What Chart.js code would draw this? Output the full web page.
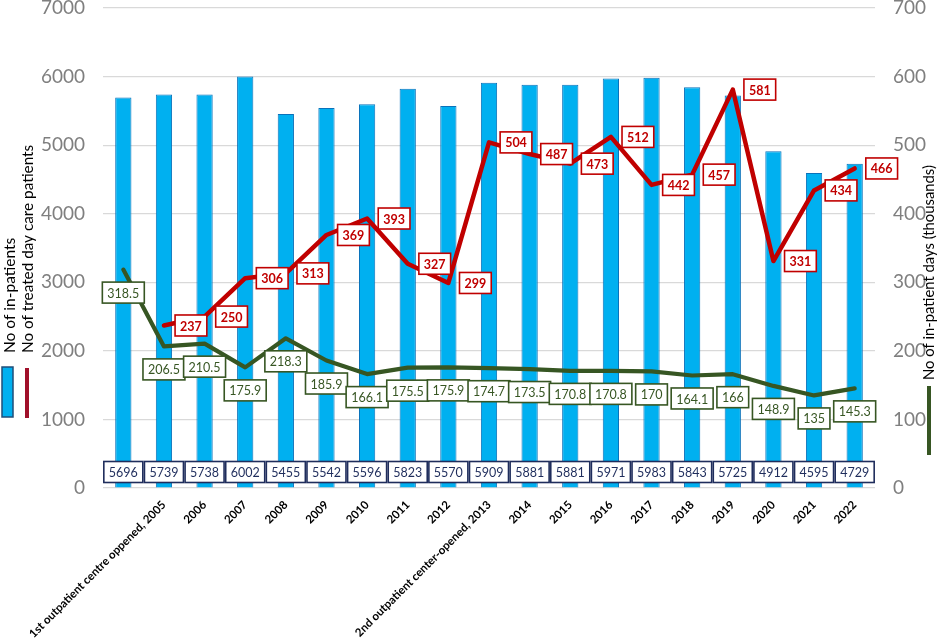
<!DOCTYPE html>
<html><head><meta charset="utf-8">
<script src="https://cdn.jsdelivr.net/npm/chart.js@4.4.1/dist/chart.umd.min.js"></script>
<style>html,body{margin:0;padding:0;background:#fff;}#wrap{width:938px;height:638px;position:relative;}</style>
</head><body><div id="wrap"><canvas id="c"></canvas></div>
<script>
const categories = ["", "1st outpatient centre oppened, 2005", "2006", "2007", "2008", "2009", "2010", "2011", "2012",
  "2nd outpatient center-opened, 2013", "2014", "2015", "2016", "2017", "2018", "2019", "2020", "2021", "2022"];
const inPatients = [5696, 5739, 5738, 6002, 5455, 5542, 5596, 5823, 5570, 5909, 5881, 5881, 5971, 5983, 5843, 5725, 4912, 4595, 4729];
const dayCarePatients = [null, 237, 250, 306, 313, 369, 393, 327, 299, 504, 487, 473, 512, 442, 457, 581, 331, 434, 466];
const inPatientDays = [318.5, 206.5, 210.5, 175.9, 218.3, 185.9, 166.1, 175.5, 175.9, 174.7, 173.5, 170.8, 170.8, 170, 164.1, 166, 148.9, 135, 145.3];
const leftTicks = [0, 1000, 2000, 3000, 4000, 5000, 6000, 7000];
const rightTicks = [0, 100, 200, 300, 400, 500, 600, 700];
const leftTitles = ["No of in-patients", "No of treated day care patients"];
const rightTitle = "No of in-patient days (thousands)";

const BLUE = '#00B0F0', RED = '#C00000', GREEN = '#375623', NAVY = '#1F2D5C';

function drawBox(ctx, text, cx, cy, border, color, font) {
  ctx.font = font;
  const w = ctx.measureText(text).width + 10, h = 21;
  ctx.fillStyle = '#fff';
  ctx.fillRect(cx - w / 2, cy - h / 2, w, h);
  ctx.lineWidth = 1.6;
  ctx.strokeStyle = border;
  ctx.strokeRect(cx - w / 2, cy - h / 2, w, h);
  ctx.fillStyle = color;
  ctx.textAlign = 'center';
  ctx.textBaseline = 'middle';
  ctx.fillText(text, cx, cy + 1);
}

function vText(ctx, text, x, yStart, size) {
  ctx.font = size + 'px Lato';
  ctx.save(); ctx.translate(x, yStart); ctx.rotate(-Math.PI / 2);
  ctx.textAlign = 'left'; ctx.textBaseline = 'middle'; ctx.fillText(text, 0, 0);
  ctx.restore();
}

const labelPlugin = {
  id: 'boxLabels',
  afterDatasetsDraw(chart) {
    const ctx = chart.ctx, area = chart.chartArea;
    ctx.save();
    chart.getDatasetMeta(2).data.forEach((el, i) => {
      drawBox(ctx, String(inPatients[i]), el.x, area.bottom - 16, NAVY, NAVY, '12.5px Lato');
    });
    chart.getDatasetMeta(1).data.forEach((el, i) => {
      drawBox(ctx, String(inPatientDays[i]), el.x, el.y + 23, GREEN, GREEN, '12.5px Lato');
    });
    chart.getDatasetMeta(0).data.forEach((el, i) => {
      if (dayCarePatients[i] == null) return;
      drawBox(ctx, String(dayCarePatients[i]), el.x + 27, el.y, RED, RED, 'bold 12.5px Lato');
    });
    ctx.restore();
  },
  afterDraw(chart) {
    const ctx = chart.ctx;
    ctx.save();
    ctx.fillStyle = '#000';
    vText(ctx, leftTitles[0], 10, 353, 15.5);
    vText(ctx, leftTitles[1], 28, 353, 15.3);
    vText(ctx, rightTitle, 929, 380, 14.8);
    ctx.fillStyle = BLUE; ctx.fillRect(2, 367, 11, 50);
    ctx.strokeStyle = '#1F4E79'; ctx.lineWidth = 1.5; ctx.strokeRect(2, 367, 11, 50);
    ctx.lineCap = 'butt';
    ctx.strokeStyle = '#A0102A'; ctx.lineWidth = 4;
    ctx.beginPath(); ctx.moveTo(27, 368); ctx.lineTo(27, 418); ctx.stroke();
    ctx.strokeStyle = GREEN; ctx.lineWidth = 4;
    ctx.beginPath(); ctx.moveTo(929, 386); ctx.lineTo(929, 455); ctx.stroke();
    ctx.restore();
  }
};

new Chart(document.getElementById('c'), {
  data: {
    labels: categories,
    datasets: [
      { type: 'line', label: 'No of treated day care patients', data: dayCarePatients, yAxisID: 'yR',
        borderColor: RED, borderWidth: 4.5, pointRadius: 0, tension: 0, borderCapStyle: 'round', borderJoinStyle: 'round', order: 1 },
      { type: 'line', label: 'No of in-patient days (thousands)', data: inPatientDays, yAxisID: 'yR',
        borderColor: GREEN, borderWidth: 4.2, pointRadius: 0, tension: 0, borderCapStyle: 'round', borderJoinStyle: 'round', order: 2 },
      { type: 'bar', label: 'No of in-patients', data: inPatients, yAxisID: 'yL',
        backgroundColor: BLUE, borderColor: '#0A72BA', borderWidth: 1, barPercentage: 0.4, categoryPercentage: 1, order: 3 }
    ]
  },
  options: {
    responsive: true, maintainAspectRatio: false, animation: false, devicePixelRatio: 1,
    layout: { padding: { top: 8, left: 0, right: 0, bottom: 0 } },
    plugins: { legend: { display: false }, tooltip: { enabled: false } },
    scales: {
      x: {
        grid: { display: false }, border: { display: false },
        ticks: { autoSkip: false, maxRotation: 45, minRotation: 45, color: '#000', font: { family: 'Lato', size: 11.5, weight: 'bold' }, padding: 2 },
        afterFit(s) { s.height = 150; s.paddingLeft = 0; s.paddingRight = 0; }
      },
      yL: {
        position: 'left', min: 0, max: 7000,
        grid: { color: '#d9d9d9', lineWidth: 1.2, drawTicks: false }, border: { display: false },
        ticks: { color: '#7f7f7f', font: { family: 'Lato', size: 19 }, padding: 18, callback: v => String(v) },
        afterBuildTicks(s) { s.ticks = leftTicks.map(v => ({ value: v })); },
        afterFit(s) { s.width = 103; s.paddingTop = 0; s.paddingBottom = 0; }
      },
      yR: {
        position: 'right', min: 0, max: 700,
        grid: { display: false, drawTicks: false }, border: { display: false },
        ticks: { color: '#7f7f7f', font: { family: 'Lato', size: 19 }, padding: 18, callback: v => String(v) },
        afterBuildTicks(s) { s.ticks = rightTicks.map(v => ({ value: v })); },
        afterFit(s) { s.width = 63; s.paddingTop = 0; s.paddingBottom = 0; }
      }
    }
  },
  plugins: [labelPlugin]
});
</script>
</body></html>
